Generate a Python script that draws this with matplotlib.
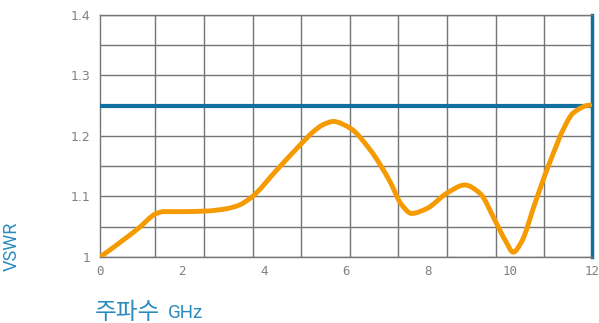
import matplotlib
matplotlib.use("Agg")
import matplotlib.pyplot as plt
from matplotlib.path import Path
from matplotlib.patches import PathPatch

# Frequency (GHz) and measured VSWR
freq = [0.0, 0.93, 1.38, 1.55, 2.0, 2.6, 3.1, 3.4, 3.7, 4.3, 4.92, 5.2, 5.45,
        5.69, 6.1, 6.59, 7.07, 7.35, 7.6, 7.97, 8.45, 8.9, 9.27, 9.63, 9.88,
        10.08, 10.28, 10.61, 10.85, 11.06, 11.30, 11.54, 11.95]
vswr = [1.000, 1.047, 1.072, 1.075, 1.075, 1.076, 1.080, 1.086, 1.099, 1.143,
        1.188, 1.207, 1.219, 1.224, 1.213, 1.177, 1.125, 1.087, 1.072, 1.080,
        1.105, 1.119, 1.105, 1.061, 1.028, 1.008, 1.025, 1.089, 1.135, 1.172,
        1.211, 1.238, 1.251]

limit_vswr = 1.25
x_ticks = [0, 2, 4, 6, 8, 10, 12]
y_ticks = [1.0, 1.1, 1.2, 1.3, 1.4]
y_tick_labels = ["1", "1.1", "1.2", "1.3", "1.4"]
y_minor = [1.05, 1.15, 1.25, 1.35]
x_grid = [1.34, 2.53, 3.72, 4.90, 6.09, 7.28, 8.46, 9.65, 10.83]

orange = "#F59A00"
blue = "#1170A0"
label_blue = "#2A8CBE"
grid_gray = "#757575"
tick_gray = "#808080"


def _sign(v):
    return (v > 0) - (v < 0)


def pchip_slopes(xs, ys):
    """Shape-preserving (Fritsch-Carlson) slopes at each point."""
    n = len(xs)
    h = [xs[i + 1] - xs[i] for i in range(n - 1)]
    d = [(ys[i + 1] - ys[i]) / h[i] for i in range(n - 1)]
    m = [0.0] * n
    for k in range(1, n - 1):
        if d[k - 1] * d[k] > 0:
            w1 = 2 * h[k] + h[k - 1]
            w2 = h[k] + 2 * h[k - 1]
            m[k] = (w1 + w2) / (w1 / d[k - 1] + w2 / d[k])

    def end(h0, h1, d0, d1):
        s = ((2 * h0 + h1) * d0 - h0 * d1) / (h0 + h1)
        if _sign(s) != _sign(d0):
            return 0.0
        if _sign(d0) != _sign(d1) and abs(s) > 3 * abs(d0):
            return 3 * d0
        return s

    m[0] = end(h[0], h[1], d[0], d[1])
    m[-1] = end(h[-1], h[-2], d[-1], d[-2])
    return m


def smooth_path(xs, ys):
    """Cubic Bezier path through the points."""
    m = pchip_slopes(xs, ys)
    verts = [(xs[0], ys[0])]
    codes = [Path.MOVETO]
    for i in range(len(xs) - 1):
        dx = (xs[i + 1] - xs[i]) / 3.0
        verts += [(xs[i] + dx, ys[i] + m[i] * dx),
                  (xs[i + 1] - dx, ys[i + 1] - m[i + 1] * dx),
                  (xs[i + 1], ys[i + 1])]
        codes += [Path.CURVE4] * 3
    return Path(verts, codes)


fig = plt.figure(figsize=(5.99, 3.23), dpi=100)
ax = fig.add_axes([100 / 599, 1 - 257 / 323, 492 / 599, 242 / 323])

ax.set_xlim(0, 12)
ax.set_ylim(1.0, 1.4)

ax.set_xticks(x_ticks)
ax.set_xticklabels([str(t) for t in x_ticks], family="DejaVu Sans Mono",
                   fontsize=9, color=tick_gray)
ax.set_xticks(x_grid, minor=True)
ax.set_yticks(y_ticks)
ax.set_yticklabels(y_tick_labels, fontsize=9, color=tick_gray)
ax.set_yticks(y_minor, minor=True)
ax.tick_params(which="both", length=0)
ax.tick_params(axis="x", pad=6)
ax.tick_params(axis="y", pad=7)

ax.grid(which="minor", axis="x", color=grid_gray, lw=1.0)
ax.grid(which="both", axis="y", color=grid_gray, lw=1.0)
ax.set_axisbelow(True)

for side in ("left", "bottom", "top"):
    ax.spines[side].set_color(grid_gray)
    ax.spines[side].set_linewidth(1.0)
ax.spines["right"].set_color(blue)
ax.spines["right"].set_linewidth(2.5)

ax.axhline(limit_vswr, color=blue, lw=3, zorder=3)
curve = PathPatch(smooth_path(freq, vswr), facecolor="none", edgecolor=orange,
                  lw=3.5, capstyle="round", joinstyle="round", zorder=4,
                  transform=ax.transData)
ax.add_patch(curve)

fig.text(12 / 599, 1 - 246 / 323, "VSWR", rotation=90, ha="center", va="center",
         color=label_blue, fontsize=13, family="Roboto")
fig.text(95 / 599, 1 - 319 / 323, "주파수", ha="left", va="baseline",
         color=label_blue, fontsize=17, family=["Noto Sans CJK KR", "DejaVu Sans"])
fig.text(168 / 599, 1 - 318 / 323, "GHz", ha="left", va="baseline",
         color=label_blue, fontsize=13.5, family="Roboto")

fig.savefig("out.png", dpi=100)
